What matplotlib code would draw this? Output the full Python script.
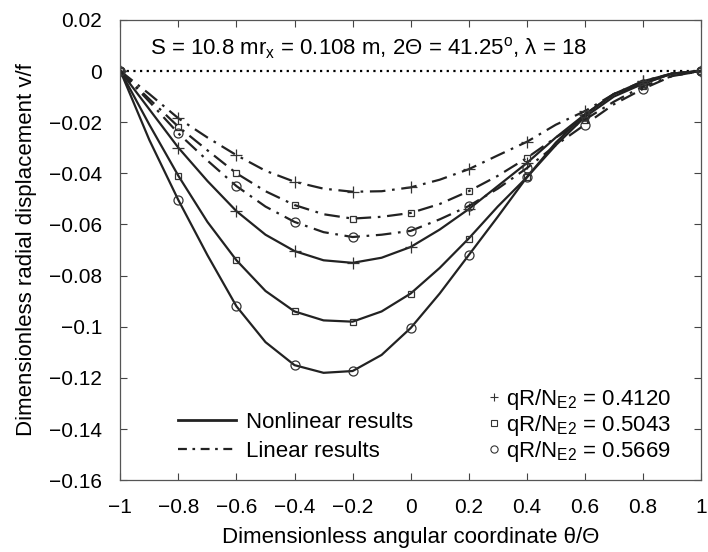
import numpy as np
import matplotlib
matplotlib.use("Agg")
import matplotlib.pyplot as plt
from matplotlib.lines import Line2D

plt.rcParams['font.family'] = ['Liberation Sans', 'DejaVu Sans']
plt.rcParams['mathtext.fontset'] = 'custom'
plt.rcParams['mathtext.rm'] = 'Liberation Sans'
plt.rcParams['mathtext.it'] = 'Liberation Sans:italic'

# x positions (lines read every 0.1, markers every 0.2)
x = np.round(np.arange(-1.0, 1.01, 0.1), 2)

# nonlinear results
nl_0412 = [0, -0.015, -0.030, -0.043, -0.0548, -0.064, -0.0704, -0.074, -0.075, -0.073,
           -0.0688, -0.062, -0.054, -0.045, -0.036, -0.026, -0.017, -0.009, -0.004, -0.001, 0]
nl_0504 = [0, -0.021, -0.041, -0.059, -0.074, -0.086, -0.094, -0.0975, -0.098, -0.094,
           -0.087, -0.077, -0.0655, -0.053, -0.0416, -0.029, -0.018, -0.010, -0.005, -0.001, 0]
nl_0567 = [0, -0.027, -0.0505, -0.072, -0.092, -0.106, -0.115, -0.118, -0.1173, -0.111,
           -0.1005, -0.087, -0.072, -0.057, -0.0416, -0.028, -0.017, -0.009, -0.005, -0.001, 0]

# linear results
li_0412 = [0, -0.009, -0.0185, -0.026, -0.0329, -0.039, -0.0433, -0.046, -0.0472, -0.047,
           -0.0455, -0.0425, -0.0384, -0.033, -0.0277, -0.021, -0.0157, -0.009, -0.004, -0.001, 0]
li_0504 = [0, -0.011, -0.0218, -0.031, -0.040, -0.047, -0.0524, -0.056, -0.0577, -0.057,
           -0.0555, -0.052, -0.047, -0.041, -0.034, -0.026, -0.019, -0.012, -0.006, -0.002, 0]
li_0567 = [0, -0.012, -0.0244, -0.035, -0.045, -0.053, -0.059, -0.063, -0.0649, -0.064,
           -0.0625, -0.058, -0.0528, -0.046, -0.038, -0.029, -0.021, -0.013, -0.007, -0.002, 0]

load_labels = ['0.4120', '0.5043', '0.5669']
markers = ['+', 's', 'o']
msizes = [8, 5, 6.5]

xticks = [-1, -0.8, -0.6, -0.4, -0.2, 0, 0.2, 0.4, 0.6, 0.8, 1]
yticks = [0.02, 0, -0.02, -0.04, -0.06, -0.08, -0.1, -0.12, -0.14, -0.16]

DASHDOT = (0, (7, 3, 1.2, 3))
FS = 16

fig = plt.figure(figsize=(7.08, 5.52), dpi=100)
ax = fig.add_axes([0.170, 0.130, 0.820, 0.834])

ax.plot([-1, 1], [0, 0], color='black', lw=1.6, linestyle=(0, (1, 2)), zorder=1)

for ys, m, ms in zip([nl_0412, nl_0504, nl_0567], markers, msizes):
    ax.plot(x, ys, color='#222222', lw=1.6, marker=m, markevery=2, ms=ms,
            mfc='none', mec='#333333', mew=0.9)
for ys, m, ms in zip([li_0412, li_0504, li_0567], markers, msizes):
    ax.plot(x, ys, color='#222222', lw=1.6, linestyle=DASHDOT, marker=m, markevery=2,
            ms=ms, mfc='none', mec='#333333', mew=0.9)

ax.set_xlim(-1, 1)
ax.set_ylim(-0.16, 0.02)
ax.set_xticks(xticks)
ax.set_yticks(yticks)
ax.set_xticklabels([('%g' % v).replace('-', '\u2212') for v in xticks])
ax.set_yticklabels([('%g' % v).replace('-', '\u2212') for v in yticks])
ax.tick_params(direction='in', top=True, right=True, length=5, width=0.8,
               labelsize=15, pad=13, color='#444444')
for s in ax.spines.values():
    s.set_color('#555555')
    s.set_linewidth(0.9)

ax.set_xlabel('Dimensionless angular coordinate \u03b8/\u0398', fontsize=FS, labelpad=7)
ax.set_ylabel('Dimensionless radial displacement v/f', fontsize=FS, labelpad=9)

ax.text(0.051, 0.938, 'S = 10.8 mr$_{\\rm x}$ = 0.108 m, 2\u0398 = 41.25$^{\\rm o}$, \u03bb = 18',
        transform=ax.transAxes, fontsize=FS, va='center', ha='left')

h1 = [Line2D([], [], color='#222222', lw=2),
      Line2D([], [], color='#222222', lw=1.6, linestyle=(0, (4, 2.5, 1.2, 2.5)))]
leg1 = ax.legend(h1, ['Nonlinear results', 'Linear results'], loc='lower left',
                 bbox_to_anchor=(0.10, 0.04), frameon=False, fontsize=FS,
                 borderaxespad=0, borderpad=0,
                 handlelength=2.6, handletextpad=0.45, labelspacing=0.35)
ax.add_artist(leg1)

h2 = [Line2D([], [], linestyle='none', marker=m, ms=ms * 0.8, mfc='none', mec='#333333', mew=0.8)
      for m, ms in zip(markers, msizes)]
ax.legend(h2, [r'qR/N$_{\rm E2}$ = ' + v for v in load_labels], loc='lower right',
          bbox_to_anchor=(0.948, 0.035), frameon=False, fontsize=FS,
          borderaxespad=0, borderpad=0,
          handlelength=0.6, handletextpad=0.2, labelspacing=0.05)

fig.savefig('out.png', dpi=100)
